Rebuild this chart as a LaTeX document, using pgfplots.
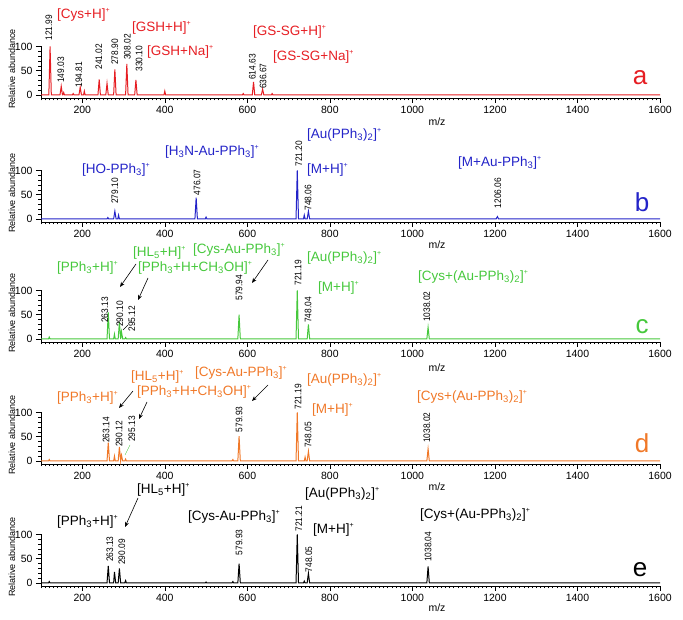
\documentclass[border=0pt]{standalone}
\usepackage{fontspec}
\setmainfont{Liberation Sans}
\usepackage{pgfplots}
\pgfplotsset{compat=1.18}
\usetikzlibrary{arrows.meta}
\definecolor{Rd}{RGB}{230,30,35}
\definecolor{Bl}{RGB}{35,35,200}
\definecolor{Gn}{RGB}{70,200,60}
\definecolor{Or}{RGB}{240,120,40}

\pgfplotsset{
  ms/.style={
    scale only axis, width=619pt, height=51.4pt,
    xmin=100, xmax=1600, ymin=-6, ymax=100,
    axis lines=left, axis line style={-, line width=0.6pt},
    xtick={200,400,...,1600}, minor xtick={100,110,...,1600},
    ytick={0,50,100}, minor ytick={10,20,30,40,60,70,80,90},
    tick align=outside, major tick length=5pt, minor tick length=2.5pt,
    tick style={black, line width=0.5pt},
    ticklabel style={font=\fontsize{10.5}{12}\selectfont},
    /pgf/number format/assume math mode=true,
    /pgf/number format/set thousands separator={},
    clip=false,
  },
  pk/.style={line width=1pt},
}
\tikzset{
  lab/.style={rotate=90, anchor=west, inner sep=0pt, font=\fontsize{9.5}{10}\selectfont},
  ion/.style={anchor=west, inner sep=0pt, font=\fontsize{13.5}{15}\selectfont},
  let/.style={font=\fontsize{26}{28}\selectfont},
  ar/.style={-{Stealth[length=5pt,width=4pt]}, line width=0.6pt},
}
\newcommand\Sup[1]{\raisebox{0.9ex}{\fontsize{7}{8}\selectfont #1}}
\newcommand\Sub[1]{\textsubscript{#1}}
\newcommand\N[1]{\scalebox{0.88}[1]{#1}}

\begin{document}
\begin{tikzpicture}
\useasboundingbox (0,0) rectangle (683pt,620pt);

% ---- a ----
\begin{axis}[ms, at={(41pt,522.1pt)}, anchor=south west]
\addplot[pk, Rd] coordinates {(100,0) (119,0) (122,100) (125,0) (146,0) (149,18) (152,0) (153,0) (155,5) (157,0) (176,0) (178,3) (180,0)
 (192,0) (195,16) (198,0) (203,0) (205,8) (207,0) (238,0) (241,32) (244,0) (257,0) (260,24) (263,0) (276,0) (279,53) (282,0)
 (305,0) (308,64) (311,0) (327,0) (330,31) (333,0) (398,0) (400,8) (402,0) (588,0) (590,3) (592,0) (612,0) (615,27) (618,0)
 (634,0) (637,12) (640,0) (658,0) (660,3) (662,0) (1600,0)};
\node[lab] at (axis cs:119,112) {\N{121.99}};
\node[lab] at (axis cs:148,25) {\N{149.03}};
\node[lab] at (axis cs:192,15) {\N{194.81}};
\node[lab] at (axis cs:240,52) {\N{241.02}};
\node[lab] at (axis cs:279,62) {\N{278.90}};
\node[lab] at (axis cs:309,72) {\N{308.02}};
\node[lab] at (axis cs:338,48) {\N{330.10}};
\node[lab] at (axis cs:612,31) {\N{614.63}};
\node[lab] at (axis cs:638,12) {\N{636.67}};
\end{axis}

% ---- b ----
\begin{axis}[ms, at={(41pt,398.1pt)}, anchor=south west]
\addplot[pk, Bl] coordinates {(100,0) (260,0) (262,3) (264,0) (276,0) (279,16) (282,0) (286,0) (288,8) (290,0) (473,0) (476,44) (479,0)
 (498,0) (500,4) (502,0) (718,0) (721,100) (724,0) (736,0) (738,8) (740,0) (745,0) (748,16) (751,0) (1203,0) (1206,5) (1209,0) (1600,0)};
\node[lab] at (axis cs:279,31) {\N{279.10}};
\node[lab] at (axis cs:478,49) {\N{476.07}};
\node[lab] at (axis cs:725,108) {\N{721.20}};
\node[lab] at (axis cs:747,17) {\N{748.06}};
\node[lab] at (axis cs:1207,22) {\N{1206.06}};
\end{axis}

% ---- c ----
\begin{axis}[ms, at={(41pt,278.1pt)}, anchor=south west]
\addplot[pk, Gn] coordinates {(100,0) (118,0) (120,4) (122,0) (260,0) (263,55) (266,0) (276,0) (278,10) (280,0) (287,0) (290,35) (293,0)
 (295,15) (298,0) (303,0) (305,3) (307,0) (577,0) (580,50) (583,0) (718,0) (721,100) (724,0) (745,0) (748,30) (751,0)
 (1035,0) (1038,24) (1041,0) (1600,0)};
\node[lab] at (axis cs:255,33) {\N{263.13}};
\node[lab] at (axis cs:291,25) {\N{290.10}};
\node[lab] at (axis cs:320,15) {\N{295.12}};
\node[lab] at (axis cs:580,79) {\N{579.94}};
\node[lab] at (axis cs:723,110) {\N{721.19}};
\node[lab] at (axis cs:747,33) {\N{748.04}};
\node[lab] at (axis cs:1035,35) {\N{1038.02}};
\end{axis}

% ---- d ----
\begin{axis}[ms, at={(41pt,156.1pt)}, anchor=south west]
\addplot[pk, Or] coordinates {(100,0) (118,0) (120,3) (122,0) (260,0) (263,38) (266,0) (276,0) (278,10) (280,0) (287,0) (290,29) (293,0)
 (295,12) (298,0) (303,0) (305,4) (307,0) (563,0) (565,3) (567,0) (577,0) (580,51) (583,0) (718,0) (721,100) (724,0)
 (738,0) (740,8) (742,0) (745,0) (748,20) (751,0) (1035,0) (1038,25) (1041,0) (1600,0)};
\node[lab] at (axis cs:258,37) {\N{263.14}};
\node[lab] at (axis cs:289,29) {\N{290.12}};
\node[lab] at (axis cs:320,39) {\N{295.13}};
\node[lab] at (axis cs:580,59) {\N{579.93}};
\node[lab] at (axis cs:723,106) {\N{721.19}};
\node[lab] at (axis cs:747,27) {\N{748.05}};
\node[lab] at (axis cs:1035,37) {\N{1038.02}};
\end{axis}

% ---- e ----
\begin{axis}[ms, at={(41pt,34.1pt)}, anchor=south west]
\addplot[pk, black] coordinates {(100,0) (118,0) (120,3) (122,0) (260,0) (263,35) (266,0) (276,0) (278,23) (281,0) (287,0) (290,30) (293,0)
 (303,0) (305,5) (307,0) (498,0) (500,2) (502,0) (563,0) (565,3) (567,0) (577,0) (580,40) (583,0) (718,0) (721,100) (724,0)
 (736,0) (738,4) (740,0) (745,0) (748,20) (751,0) (1035,0) (1038,34) (1041,0) (1600,0)};
\node[lab] at (axis cs:267,43) {\N{263.13}};
\node[lab] at (axis cs:296,37) {\N{290.09}};
\node[lab] at (axis cs:580,57) {\N{579.93}};
\node[lab] at (axis cs:725,106) {\N{721.21}};
\node[lab] at (axis cs:749,22) {\N{748.05}};
\node[lab] at (axis cs:1038,43) {\N{1038.04}};
\end{axis}

% ---- annotations in image pixel coordinates (y downward) ----
\begin{scope}[shift={(0,620pt)}, x=1pt, y=-1pt]
\foreach \b in {95,219,339,461,583}{
  \node[rotate=90, font=\fontsize{9}{10}\selectfont] at (12,\b-26) {Relative abundance};
}
\foreach \m in {122,245,368,487,608}{
  \node[font=\fontsize{10.5}{12}\selectfont] at (437,\m) {m/z};
}
% a
\begin{scope}[Rd]
\node[ion] at (57,15) {[Cys+H]\Sup{+}};
\node[ion] at (132,28) {[GSH+H]\Sup{+}};
\node[ion] at (147,52) {[GSH+Na]\Sup{+}};
\node[ion] at (253,32) {[GS-SG+H]\Sup{+}};
\node[ion] at (273,57) {[GS-SG+Na]\Sup{+}};
\node[let] at (640,78) {a};
\end{scope}
% b
\begin{scope}[Bl]
\node[ion] at (82,170) {[HO-PPh\Sub{3}]\Sup{+}};
\node[ion] at (165,152) {[H\Sub{3}N-Au-PPh\Sub{3}]\Sup{+}};
\node[ion] at (307,135) {[Au(PPh\Sub{3})\Sub{2}]\Sup{+}};
\node[ion] at (307,170) {[M+H]\Sup{+}};
\node[ion] at (458,163) {[M+Au-PPh\Sub{3}]\Sup{+}};
\node[let] at (642,202) {b};
\end{scope}
% c
\begin{scope}[Gn]
\node[ion] at (57,268) {[PPh\Sub{3}+H]\Sup{+}};
\node[ion] at (133,253) {[HL\Sub{5}+H]\Sup{+}};
\node[ion] at (138,268) {[PPh\Sub{3}+H+CH\Sub{3}OH]\Sup{+}};
\node[ion] at (193,250) {[Cys-Au-PPh\Sub{3}]\Sup{+}};
\node[ion] at (307,258) {[Au(PPh\Sub{3})\Sub{2}]\Sup{+}};
\node[ion] at (318,288) {[M+H]\Sup{+}};
\node[ion] at (418,277) {[Cys+(Au-PPh\Sub{3})\Sub{2}]\Sup{+}};
\node[let] at (642,327) {c};
\end{scope}
\draw[ar] (136,264) -- (120,287);
\draw[ar] (148,278) -- (138,300);
\draw[ar] (268,260) -- (252,283);
\draw[line width=0.4pt] (123,330) -- (128,325);
% d
\begin{scope}[Or]
\node[ion] at (57,398) {[PPh\Sub{3}+H]\Sup{+}};
\node[ion] at (131,377) {[HL\Sub{5}+H]\Sup{+}};
\node[ion] at (137,392) {[PPh\Sub{3}+H+CH\Sub{3}OH]\Sup{+}};
\node[ion] at (195,373) {[Cys-Au-PPh\Sub{3}]\Sup{+}};
\node[ion] at (307,380) {[Au(PPh\Sub{3})\Sub{2}]\Sup{+}};
\node[ion] at (312,410) {[M+H]\Sup{+}};
\node[ion] at (417,397) {[Cys+(Au-PPh\Sub{3})\Sub{2}]\Sup{+}};
\node[let] at (642,443) {d};
\end{scope}
\draw[ar] (133,391) -- (119,408);
\draw[ar] (147,402) -- (139,419);
\draw[ar] (268,385) -- (252,401);
\draw[Gn, line width=0.4pt] (125,455) -- (130,445);
% e
\node[ion] at (57,522) {[PPh\Sub{3}+H]\Sup{+}};
\node[ion] at (137,490) {[HL\Sub{5}+H]\Sup{+}};
\node[ion] at (188,517) {[Cys-Au-PPh\Sub{3}]\Sup{+}};
\node[ion] at (305,494) {[Au(PPh\Sub{3})\Sub{2}]\Sup{+}};
\node[ion] at (313,530) {[M+H]\Sup{+}};
\node[ion] at (420,515) {[Cys+(Au-PPh\Sub{3})\Sub{2}]\Sup{+}};
\node[let] at (640,570) {e};
\draw[ar] (138,498) -- (125,527);
\end{scope}
\end{tikzpicture}
\end{document}
